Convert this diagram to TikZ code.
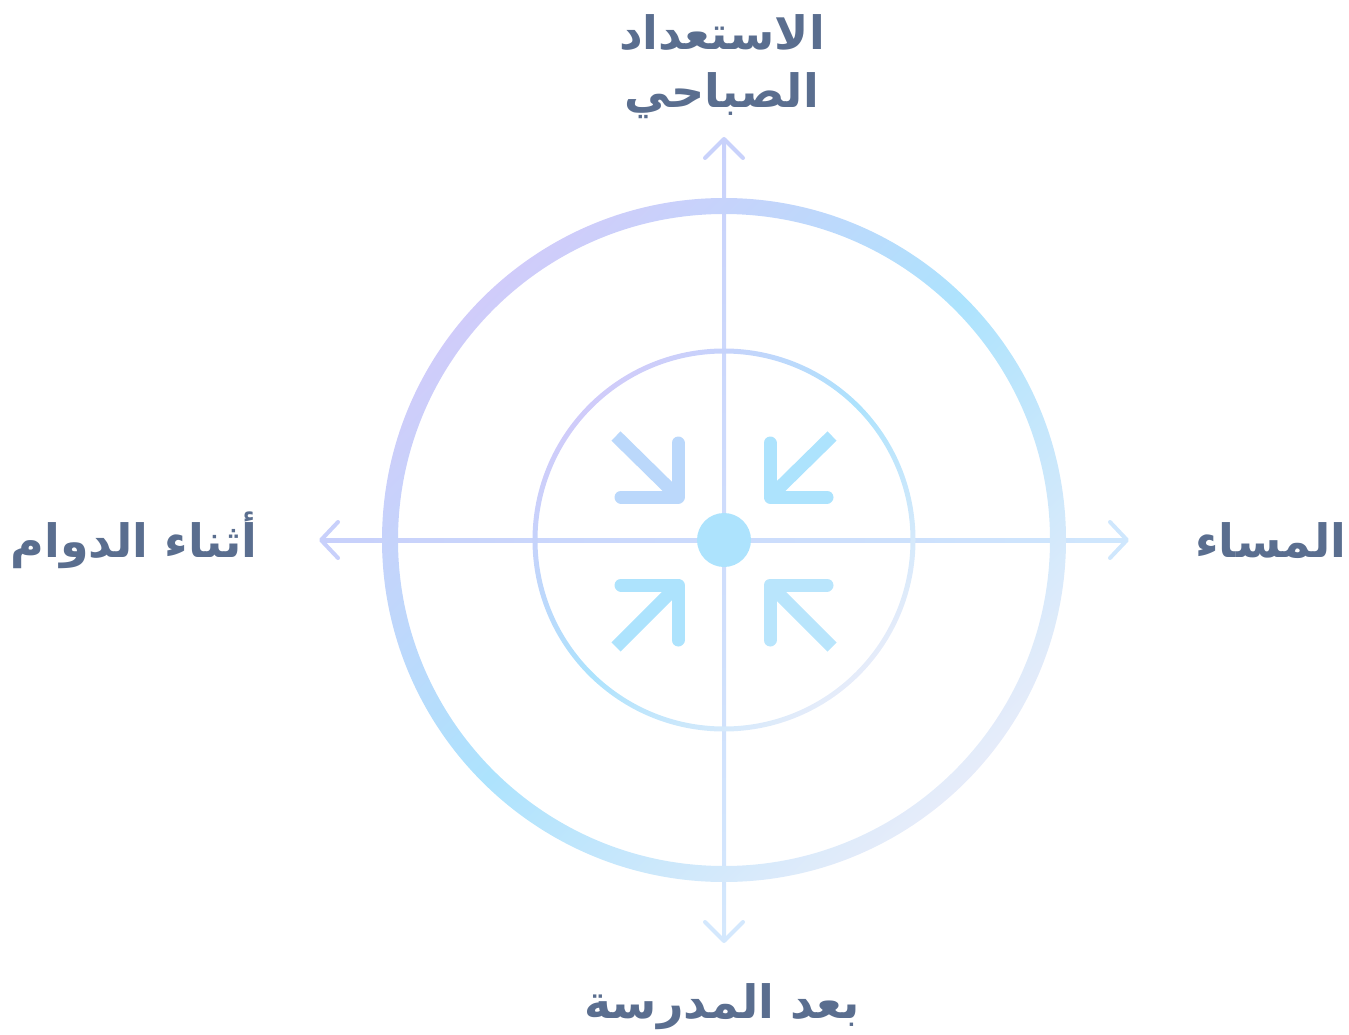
\documentclass[tikz,border=0pt]{standalone}
\usepackage{fontspec}
\usetikzlibrary{calc}
\TeXXeTstate=1
\newfontfamily\arabicfont[Script=Arabic]{DejaVu Sans}
\definecolor{txt}{HTML}{5A6E8F}
\definecolor{lav}{HTML}{D0CCFA}
\definecolor{sky}{HTML}{ADE3FD}
\definecolor{pale}{HTML}{E6ECFA}
\definecolor{axtop}{HTML}{C9D2FB}
\definecolor{axbot}{HTML}{D4E8FD}
\definecolor{axleft}{HTML}{C8D0FB}
\definecolor{axright}{HTML}{CFE7FD}
\definecolor{arrTL}{HTML}{BBD8FB}
\definecolor{arrBR}{HTML}{B9E5FC}
\tikzset{
  lbl/.style={font=\arabicfont\bfseries\fontsize{46}{58}\selectfont, text=txt, inner sep=0pt},
  axhead/.style={line width=4pt, line cap=round, line join=round},
  qarrow/.style={line width=13pt, line cap=round, line join=round},
  qdiag/.style={line width=13pt, line cap=butt},
  ringshade/.style={even odd rule, top color=lav, bottom color=pale, middle color=sky, shading angle=45},
}
\begin{document}
\begin{tikzpicture}[x=1pt,y=-1pt]
\useasboundingbox (0,0) rectangle (1349,1035);
\coordinate (c) at (724,540);
\coordinate (ttip) at (724,139);
\coordinate (btip) at (724,941);
\coordinate (ltip) at (321,540);
\coordinate (rtip) at (1127,540);
% axes
\shade[top color=axtop, bottom color=axbot] ($(ttip)+(-2,0)$) rectangle ($(btip)+(2,0)$);
\shade[left color=axleft, right color=axright] ($(ltip)+(0,-2)$) rectangle ($(rtip)+(0,2)$);
\draw[axhead, axtop] ($(ttip)+(-19,19)$) -- (ttip) -- ($(ttip)+(19,19)$);
\draw[axhead, axbot] ($(btip)+(-19,-19)$) -- (btip) -- ($(btip)+(19,-19)$);
\draw[axhead, axleft] ($(ltip)+(17,-18)$) -- (ltip) -- ($(ltip)+(17,18)$);
\draw[axhead, axright] ($(rtip)+(-17,-18)$) -- (rtip) -- ($(rtip)+(-17,18)$);
% rings
\shade[ringshade] (c) circle[radius=342pt] (c) circle[radius=326pt];
\shade[ringshade] (c) circle[radius=191.5pt] (c) circle[radius=186.5pt];
% center dot
\fill[sky] (c) circle[radius=27pt];
% converging arrows
\coordinate (tl) at (678,497);
\coordinate (tr) at (770,497);
\coordinate (bl) at (678,585);
\coordinate (br) at (770,585);
\draw[qdiag, arrTL] ($(tl)+(-62,-61)$) -- ($(tl)+(-3,-3)$);
\draw[qarrow, arrTL] ($(tl)+(0,-54)$) -- (tl) -- ($(tl)+(-57,0)$);
\draw[qdiag, sky] ($(tr)+(62,-61)$) -- ($(tr)+(3,-3)$);
\draw[qarrow, sky] ($(tr)+(0,-54)$) -- (tr) -- ($(tr)+(57,0)$);
\draw[qdiag, sky] ($(bl)+(-62,62)$) -- ($(bl)+(-3,3)$);
\draw[qarrow, sky] ($(bl)+(0,55)$) -- (bl) -- ($(bl)+(-57,0)$);
\draw[qdiag, arrBR] ($(br)+(62,62)$) -- ($(br)+(3,3)$);
\draw[qarrow, arrBR] ($(br)+(0,55)$) -- (br) -- ($(br)+(57,0)$);
% labels
\node[lbl, anchor=base, align=center] (top) at (722,108) {\beginR الاستعداد\endR\\\beginR الصباحي\endR};
\node[lbl, anchor=base] (bottom) at (722,1018) {\beginR بعد المدرسة\endR};
\node[lbl, anchor=base] (left) at (134,557) {\beginR أثناء الدوام\endR};
\node[lbl, anchor=base] (right) at (1271,557) {\beginR المساء\endR};
\end{tikzpicture}
\end{document}
